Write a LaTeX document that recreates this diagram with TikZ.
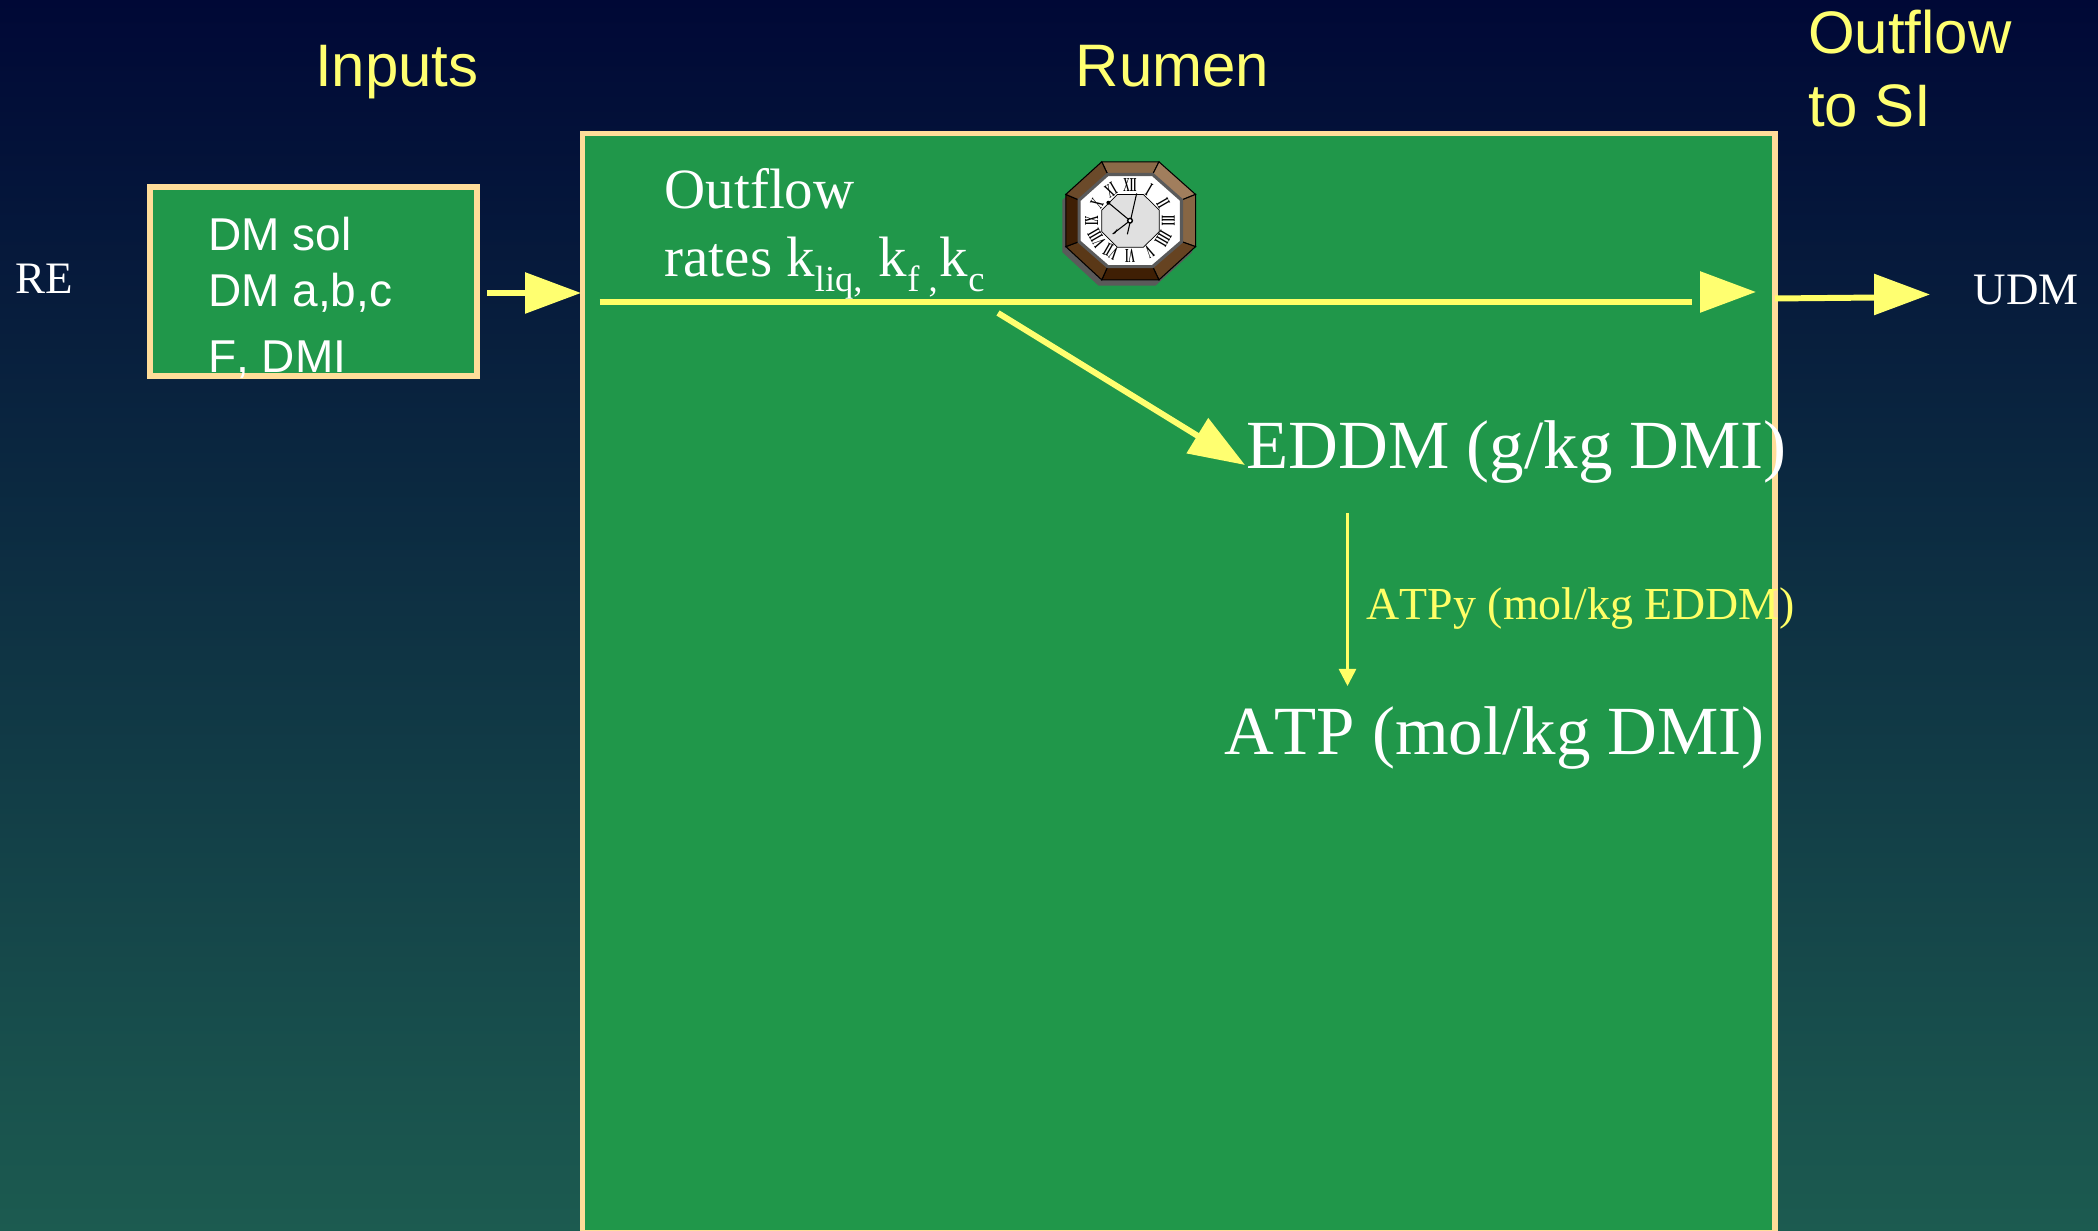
\documentclass[tikz,border=0pt]{standalone}
\usepackage{fontspec}
\setmainfont[Kerning=Off]{Liberation Serif}
\newfontfamily\arialfont[Kerning=Off]{Liberation Sans}
\usetikzlibrary{arrows.meta}
\definecolor{my_bgtop}{HTML}{000836}
\definecolor{my_bgbottom}{HTML}{1C5B50}
\definecolor{my_green}{HTML}{20974A}
\definecolor{my_border}{HTML}{FFDD99}
\definecolor{my_yellow}{HTML}{FFFF70}
\definecolor{my_line}{HTML}{FFFF66}
\definecolor{my_shadow}{HTML}{5A5A5A}
\definecolor{my_core}{HTML}{E0E0E0}
\newcommand{\ksub}[1]{\raisebox{-4.27pt}{\fontsize{10.4}{12}\selectfont #1}}

\begin{document}
\begin{tikzpicture}[
    boxed/.style={draw=my_border, fill=my_green, line width=1.6pt, inner sep=0pt},
    title_text/.style={my_yellow, anchor=base west, inner sep=0pt, align=left,
        font=\arialfont\fontsize{17.07}{20.8}\selectfont},
    input_text/.style={white, anchor=base west, inner sep=0pt, align=left,
        font=\arialfont\fontsize{13.1}{15.93}\selectfont},
    side_text/.style={white, anchor=base west, inner sep=0pt,
        font=\fontsize{12.8}{15}\selectfont},
    big_text/.style={white, anchor=base west, inner sep=0pt,
        font=\fontsize{19.62}{24}\selectfont},
    flow/.style={my_line, line width=1.7pt},
    flow_tip/.style={my_yellow, line width=1.7pt,
        -{Triangle[length=5.6mm, width=4mm]}}
]
\useasboundingbox (0,0) rectangle (20.98,-12.31);
\clip (0,0) rectangle (20.98,-12.31);

% -------- Background ----------------------------------------
\shade[top color=my_bgtop, bottom color=my_bgbottom]
    (0,0) rectangle (20.98,-12.31);

% -------- Boxes ---------------------------------------------
\node[boxed, minimum width=11.925cm, minimum height=10.995cm]
    (rumen) at (11.7875, -6.8325) {};
\node[boxed, minimum width=3.27cm, minimum height=1.89cm]
    (input_box) at (3.135, -2.815) {};

% -------- Titles --------------------------------------------
\node[title_text] (inputs_title) at (3.145, -0.87) {Inputs};
\node[title_text] (rumen_title) at (10.75, -0.87) {Rumen};
\node[title_text] (outflow_title) at (18.075, -1.27) {Outflow\\to SI};

% -------- Texts ---------------------------------------------
\node[input_text] (input_list) at (2.075, -3.725)
    {DM sol\\DM a,b,c\\[2.84pt]F, DMI};
\node[side_text] (re_label) at (0.145, -2.94) {RE};
\node[side_text] (udm_label) at (19.73, -3.05) {UDM};
\node[white, anchor=base west, inner sep=0pt, align=left,
      font=\fontsize{16.2}{19.6}\selectfont] (rates_label) at (6.64, -2.77)
    {Outflow\\rates k\ksub{liq,} \hspace{0.6pt}k\ksub{f ,}\hspace{0.6pt}k\ksub{c}};
\node[big_text] (eddm_label) at (12.46, -4.69) {EDDM (g/kg DMI)};
\node[big_text] (atp_label) at (12.24, -7.55) {ATP (mol/kg DMI)};
\node[my_line, anchor=base west, inner sep=0pt,
      font=\fontsize{13.05}{16}\selectfont] (atpy_label) at (13.66, -6.20)
    {ATPy (mol/kg EDDM)};

% -------- Arrows --------------------------------------------
\coordinate (in_start) at (4.87, -2.93);
\coordinate (in_end) at (5.81, -2.93);
\coordinate (main_start) at (5.995, -3.02);
\coordinate (main_end) at (16.915, -3.02);
\coordinate (head_base) at (17.05, -2.92);
\coordinate (head_tip) at (17.56, -2.92);
\coordinate (out_start) at (17.75, -2.985);
\coordinate (out_end) at (18.80, -2.975);
\coordinate (out_base) at (18.80, -2.945);
\coordinate (out_tip) at (19.30, -2.945);
\coordinate (eddm_start) at (9.98, -3.13);
\coordinate (eddm_end) at (12.45, -4.65);
\coordinate (atp_start) at (13.475, -5.13);
\coordinate (atp_end) at (13.475, -6.86);

\draw[flow_tip] (in_start) -- (in_end);
\draw[flow] (main_start) -- (main_end);
\draw[flow_tip] (head_base) -- (head_tip);
\draw[flow] (out_start) -- (out_end);
\draw[flow_tip] (out_base) -- (out_tip);
\draw[flow_tip] (eddm_start) -- (eddm_end);
\draw[my_line, line width=0.75pt, -{Triangle[length=1.7mm, width=1.7mm]}]
    (atp_start) -- (atp_end);

% -------- Clock ---------------------------------------------
\begin{scope}[shift={(11.30, -2.207)}, x=0.003333cm, y=-0.003333cm]
% Corner points: outer case, dial
\foreach \px/\py [count=\i] in {-85/-177, 87/-177, 197/-79, 197/78,
                                87/178, -85/178, -193/78, -193/-79}
    \coordinate (case\i) at (\px, \py);
\foreach \px/\py [count=\i] in {-67/-139, 68/-139, 155/-62, 155/63,
                                68/138, -67/138, -153/63, -153/-62}
    \coordinate (dial\i) at (\px, \py);
% Shadow
\fill[my_shadow] (-95,-160) -- (77,-160) -- (187,-62) -- (187,95)
    -- (77,195) -- (-95,195) -- (-203,95) -- (-203,-62) -- cycle;
% Case facets
\foreach \a/\b/\shadecol in {1/2/8B6A48, 2/3/A17E5D, 3/4/876644, 4/5/664321,
                             5/6/3F1F04, 6/7/5A3817, 7/8/3F1F04, 8/1/6B4A2A} {
    \definecolor{facet}{HTML}{\shadecol}
    \draw[black, line width=0.3pt, fill=facet]
        (case\a) -- (case\b) -- (dial\b) -- (dial\a) -- cycle;
}
% Dial
\draw[my_shadow, line width=0.9pt, fill=white] (dial1) -- (dial2) -- (dial3)
    -- (dial4) -- (dial5) -- (dial6) -- (dial7) -- (dial8) -- cycle;
\draw[black, line width=0.2pt, fill=my_core] (-38,-79) -- (40,-79) -- (88,-32)
    -- (88,33) -- (40,80) -- (-38,80) -- (-85,33) -- (-85,-32) -- cycle;
% Numerals
\foreach \num [count=\i] in {I,II,III,IIII,V,VI,VII,VIII,IX,X,XI,XII}
    \node[black, inner sep=0pt, rotate=-30*\i, xscale=0.45, transform shape,
          font=\bfseries\fontsize{5.6}{7}\selectfont] (num\i)
        at ({115*sin(30*\i)}, {-106*cos(30*\i)}) {\num};
% Hands
\draw[black, line width=0.3pt] (20,-82) -- (-8,41);
\draw[black, line width=0.3pt] (0,0) -- (-65,-54);
\draw[black, line width=0.3pt] (0,0) -- (-52,40);
\fill[black] (-65,-54) circle (6);
\fill[black] (-52,40) -- (-38,24) -- (-44,38) -- cycle;
\draw[black, line width=0.4pt, fill=white] (0,0) circle (7);
\fill[white] (72,-85) circle (8);
\end{scope}

\end{tikzpicture}
\end{document}
